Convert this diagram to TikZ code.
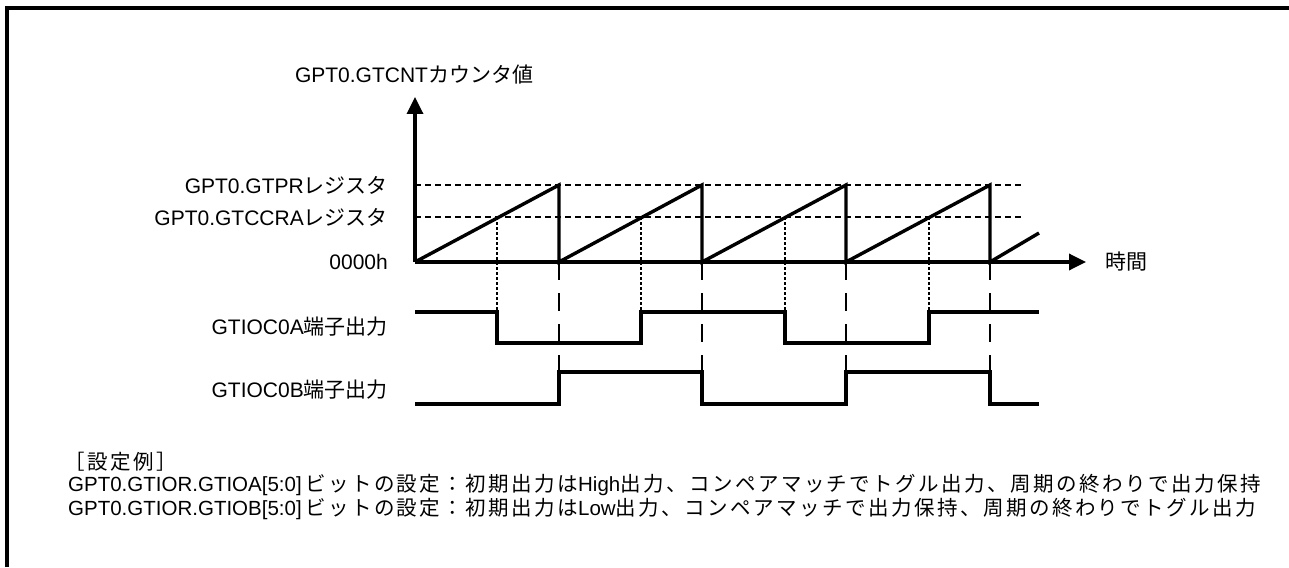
\documentclass[tikz,border=0pt]{standalone}
\usepackage{fontspec}
\setmainfont{Liberation Sans}
\newfontfamily\jpfont{Noto Sans CJK JP}
\newfontfamily\jpwide{Noto Sans CJK JP}[LetterSpace=12]
\newcommand{\jp}[1]{{\jpfont #1}}
\newcommand{\jw}[1]{{\jpwide #1}}
\usetikzlibrary{arrows.meta}
\tikzset{
  sig/.style={line width=3.4pt},
  axis/.style={line width=3.4pt, -{Triangle[width=16pt,length=17pt]}},
  lvl/.style={line width=2.4pt, dash pattern=on 6pt off 4pt},
  cmpline/.style={line width=2.4pt, dash pattern=on 3pt off 2pt},
  prdline/.style={line width=2.8pt, dash pattern=on 18pt off 13pt},
  lbl/.style={anchor=east, inner sep=0pt, font=\fontsize{21}{25}\selectfont},
  note/.style={anchor=west, inner sep=0pt, font=\fontsize{20.5}{24}\selectfont},
}
\begin{document}
\begin{tikzpicture}[x=1pt, y=-1pt]
\useasboundingbox (0,0) rectangle (1289,567);
\draw[line width=3.6pt] (7,567) -- (7,8) -- (1289,8);

\coordinate (o) at (415,262);
\coordinate (ytip) at (415,97);
\coordinate (xtip) at (1086,262);
\draw[lvl] (415,185) -- (1023,185);
\draw[lvl] (415,217) -- (1023,217);
\draw[axis] (o) -- (ytip);
\draw[axis] (o) -- (xtip);

\draw[sig] (o) -- (559,185) -- (559,262) -- (702,185) -- (702,262) -- (846,185) -- (846,262) -- (990,185) -- (990,262) -- (1039,233);

\draw[cmpline] (497,217) -- (497,312);
\draw[cmpline] (641,217) -- (641,312);
\draw[cmpline] (785,217) -- (785,312);
\draw[cmpline] (929,217) -- (929,312);

\draw[prdline] (559,262) -- (559,404);
\draw[prdline] (702,262) -- (702,404);
\draw[prdline] (846,262) -- (846,404);
\draw[prdline] (990,262) -- (990,404);

\draw[sig] (415,312) -- (497,312) -- (497,343) -- (641,343) -- (641,312) -- (785,312) -- (785,343) -- (929,343) -- (929,312) -- (1039,312);
\draw[sig] (415,404) -- (559,404) -- (559,372) -- (702,372) -- (702,404) -- (846,404) -- (846,372) -- (990,372) -- (990,404) -- (1039,404);

\node[lbl, anchor=center] (cnt) at (414,75) {GPT0.GTCNT\jp{カウンタ値}};
\node[lbl] (prd) at (388,185) {GPT0.GTPR\jp{レジスタ}};
\node[lbl] (cmp) at (388,217) {GPT0.GTCCRA\jp{レジスタ}};
\node[lbl] (zero) at (388,262) {0000h};
\node[lbl, anchor=west] (time) at (1105,262) {\jp{時間}};
\node[lbl] (outa) at (388,327) {GTIOC0A\jp{端子出力}};
\node[lbl] (outb) at (388,390) {GTIOC0B\jp{端子出力}};

\node[note] (ex) at (64,462) {\jw{［設定例］}};
\node[note] (exa) at (68,485) {GPT0.GTIOR.GTIOA[5:0]\,\jw{ビットの設定：初期出力は}High\jw{出力、コンペアマッチでトグル出力、周期の終わりで出力保持}};
\node[note] (exb) at (68,509) {GPT0.GTIOR.GTIOB[5:0]\,\jw{ビットの設定：初期出力は}Low\jw{出力、コンペアマッチで出力保持、周期の終わりでトグル出力}};
\end{tikzpicture}
\end{document}
